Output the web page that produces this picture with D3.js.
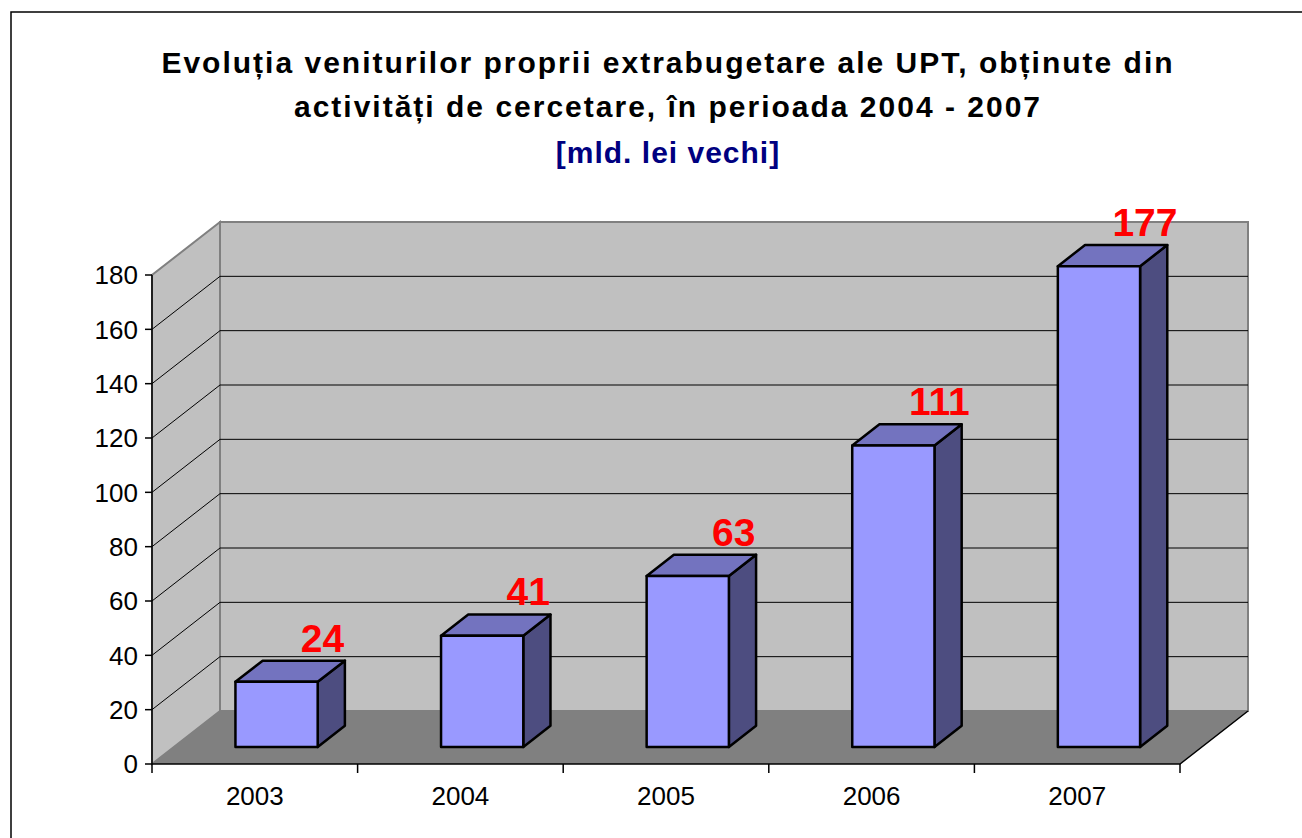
<!DOCTYPE html>
<meta charset="utf-8">
<style>
body { margin: 0; background: #fff; }
svg text { font-family: "Liberation Sans", Arial, sans-serif; }
</style>
<body>
<script src="https://d3js.org/d3.v7.min.js"></script>
<script>
// data
var years = ["2003", "2004", "2005", "2006", "2007"];
var values = [24, 41, 63, 111, 177];
var yTicks = [0, 20, 40, 60, 80, 100, 120, 140, 160, 180];
var titleLines = ["Evoluția veniturilor proprii extrabugetare ale UPT, obținute din",
                  "activități de cercetare, în perioada 2004 - 2007"];
var subtitle = "[mld. lei vechi]";

var W = 1302, H = 838;
// front plane of the plot and the depth of the 3d box
var x0 = 152, x1 = 1180, yBase = 764, yTop = 275;
var depthX = 68, depthY = -53;
var barD0 = 0.32, barD1 = 0.72;

var svg = d3.select("body").append("svg")
    .attr("width", W).attr("height", H);

// outer frame (right and bottom edges are cut off)
svg.append("rect")
    .attr("x", 11).attr("y", 12).attr("width", 1400).attr("height", 900)
    .attr("fill", "none").attr("stroke", "#000").attr("stroke-width", 1.5);

var x = d3.scaleBand().domain(years).range([x0, x1])
    .paddingInner(0.6).paddingOuter(0.3);
var y = d3.scaleLinear().domain([0, 180]).range([yBase, yTop]);

// project a point (px, value) to a given depth (0 = front, 1 = back wall)
function pt(px, v, d) {
    return [px + depthX * d, y(v) + depthY * d];
}
var line = d3.line();

// walls
var vmax = 180;
svg.append("path")
    .attr("d", line([pt(x0, 0, 0), pt(x0, vmax, 0), pt(x0, vmax, 1), pt(x0, 0, 1)]) + "Z")
    .attr("fill", "#c0c0c0").attr("stroke", "#808080").attr("stroke-width", 2);
svg.append("path")
    .attr("d", line([pt(x0, 0, 1), pt(x0, vmax, 1), pt(x1, vmax, 1), pt(x1, 0, 1)]) + "Z")
    .attr("fill", "#c0c0c0").attr("stroke", "#808080").attr("stroke-width", 2);

// gridlines on side and back walls
var grid = yTicks.filter(function(v) { return v > 0 && v < vmax; });
svg.selectAll(".gback").data(grid).enter().append("path")
    .attr("d", function(v) { return line([pt(x0, v, 1), pt(x1, v, 1)]); })
    .attr("stroke", "#000").attr("stroke-width", 1);
svg.selectAll(".gside").data(grid).enter().append("path")
    .attr("d", function(v) { return line([pt(x0, v, 0), pt(x0, v, 1)]); })
    .attr("stroke", "#000").attr("stroke-width", 1);

// floor
svg.append("path")
    .attr("d", line([pt(x0, 0, 0), pt(x1, 0, 0), pt(x1, 0, 1), pt(x0, 0, 1)]) + "Z")
    .attr("fill", "#808080");
svg.append("path")
    .attr("d", line([pt(x0, 0, 0), pt(x1, 0, 0), pt(x1, 0, 1)]))
    .attr("fill", "none").attr("stroke", "#000").attr("stroke-width", 1.5);

// y axis
svg.append("path")
    .attr("d", line([pt(x0, 0, 0), pt(x0, vmax, 0)]))
    .attr("stroke", "#000").attr("stroke-width", 1.5);
var yt = svg.selectAll(".yt").data(yTicks).enter().append("g");
yt.append("path")
    .attr("d", function(v) { return line([[x0 - 7, y(v)], [x0, y(v)]]); })
    .attr("stroke", "#000").attr("stroke-width", 1.5);
yt.append("text")
    .attr("x", x0 - 14).attr("y", function(v) { return y(v); })
    .attr("dy", "0.36em").attr("text-anchor", "end")
    .attr("font-size", 26).text(function(v) { return v; });

// x axis ticks + labels
var step = x.step();
var xTickPos = d3.range(years.length + 1).map(function(i) { return x0 + i * step; });
svg.selectAll(".xt").data(xTickPos).enter().append("path")
    .attr("d", function(px) { return line([[px, yBase], [px, yBase + 9]]); })
    .attr("stroke", "#000").attr("stroke-width", 1.5);
svg.selectAll(".xl").data(years).enter().append("text")
    .attr("x", function(d) { return x(d) + x.bandwidth() / 2; })
    .attr("y", 805).attr("text-anchor", "middle")
    .attr("font-size", 26).text(function(d) { return d; });

// bars
var bars = svg.selectAll(".bar").data(years.map(function(d, i) {
    return { year: d, value: values[i] };
})).enter().append("g");
bars.append("path") // right side
    .attr("d", function(d) {
        var r = x(d.year) + x.bandwidth();
        return line([pt(r, 0, barD0), pt(r, d.value, barD0), pt(r, d.value, barD1), pt(r, 0, barD1)]) + "Z";
    })
    .attr("fill", "#4d4d80").attr("stroke", "#000").attr("stroke-width", 2.5).attr("stroke-linejoin", "round");
bars.append("path") // top
    .attr("d", function(d) {
        var l = x(d.year), r = l + x.bandwidth();
        return line([pt(l, d.value, barD0), pt(r, d.value, barD0), pt(r, d.value, barD1), pt(l, d.value, barD1)]) + "Z";
    })
    .attr("fill", "#7373bf").attr("stroke", "#000").attr("stroke-width", 2.5).attr("stroke-linejoin", "round");
bars.append("path") // front
    .attr("d", function(d) {
        var l = x(d.year), r = l + x.bandwidth();
        return line([pt(l, 0, barD0), pt(r, 0, barD0), pt(r, d.value, barD0), pt(l, d.value, barD0)]) + "Z";
    })
    .attr("fill", "#9999ff").attr("stroke", "#000").attr("stroke-width", 2.5).attr("stroke-linejoin", "round");

// value labels
bars.append("text")
    .attr("x", function(d) { return pt(x(d.year) + x.bandwidth() / 2, 0, barD0)[0] + 46; })
    .attr("y", function(d) { return pt(0, d.value, barD1)[1] - 9; })
    .attr("text-anchor", "middle").attr("font-size", 39).attr("font-weight", "bold")
    .attr("fill", "#ff0000").text(function(d) { return d.value; });

// title
svg.selectAll(".title").data(titleLines).enter().append("text")
    .attr("x", 668).attr("y", function(d, i) { return 73 + i * 44; })
    .attr("text-anchor", "middle").attr("font-size", 30).attr("font-weight", "bold")
    .attr("letter-spacing", 2).attr("fill", "#000").text(function(d) { return d; });
svg.append("text")
    .attr("x", 668).attr("y", 163).attr("text-anchor", "middle")
    .attr("font-size", 30).attr("font-weight", "bold").attr("letter-spacing", 1)
    .attr("fill", "#000080")
    .text(subtitle);
</script>
</body>
